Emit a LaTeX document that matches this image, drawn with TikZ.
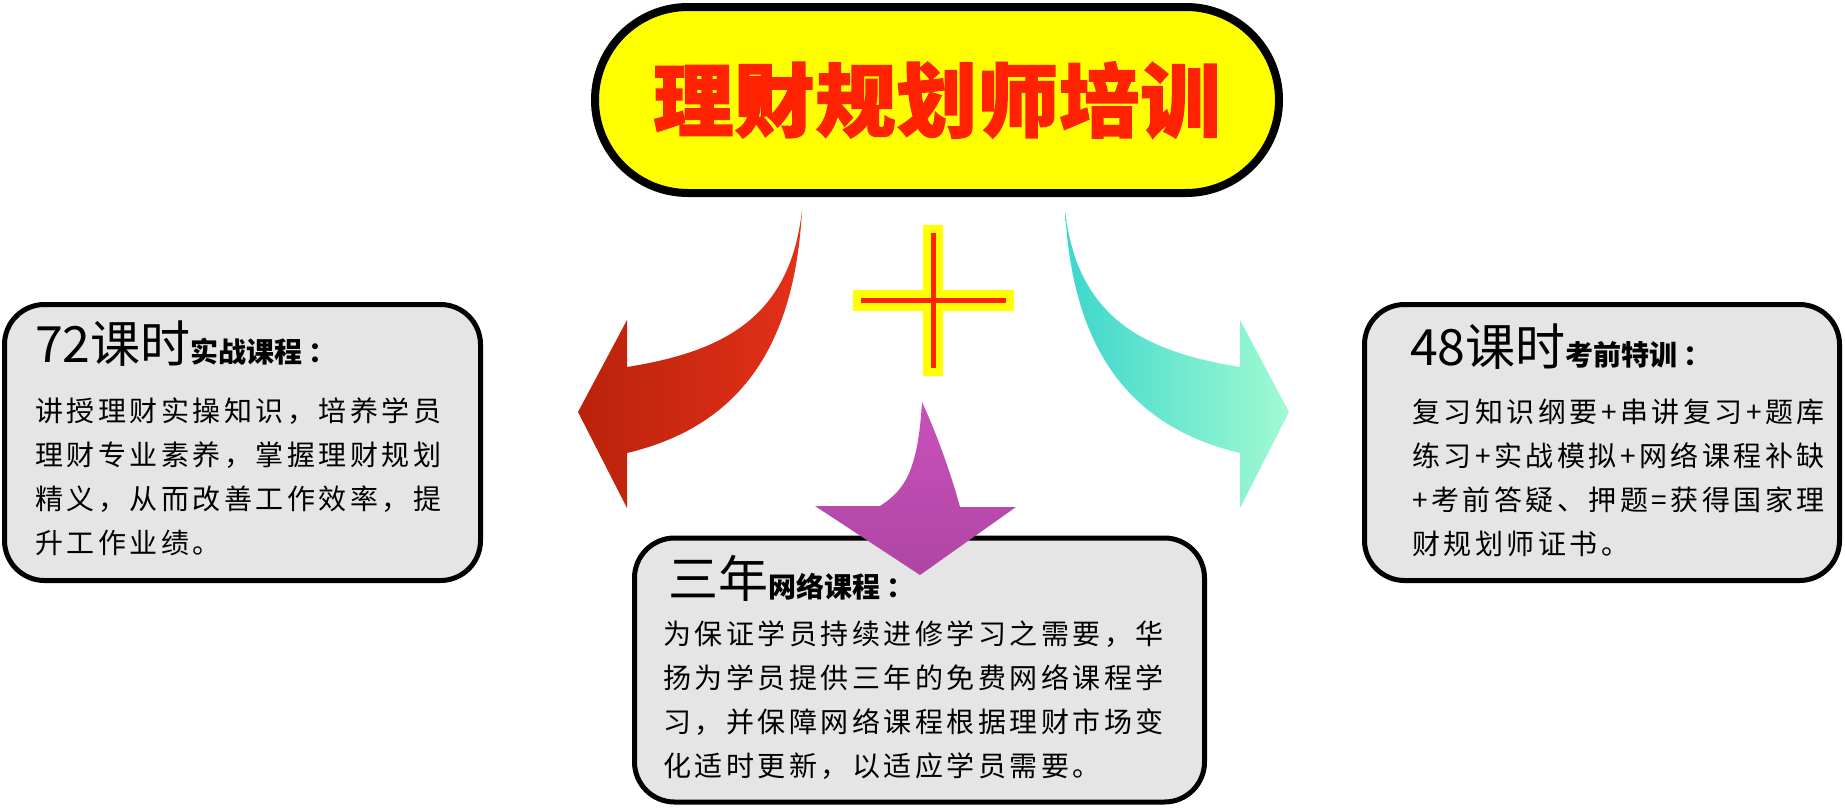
\documentclass[tikz,border=0pt]{standalone}
\usepackage{fontspec}
\usepackage{tikz}
\usetikzlibrary{positioning,calc}
\usepackage{xcolor}
\newfontfamily\cjkfont{Noto Sans CJK SC}
\newfontfamily\cjkspaced{Noto Sans CJK SC}[LetterSpace=12.5]
\newfontfamily\cjkheavy{Noto Sans CJK SC}[BoldFeatures={FakeBold=2}, LetterSpace=1.5]
\newcommand{\titlefont}{\cjkheavy\bfseries\fontsize{80}{90}\selectfont}
\newcommand{\bignum}{\cjkfont\fontsize{50}{60}\selectfont}
\newcommand{\smallhead}{\cjkfont\bfseries\fontsize{28}{34}\selectfont}
\newcommand{\bodyfont}{\cjkspaced\fontsize{28}{43.8}\selectfont}
\definecolor{dfyellow}{RGB}{255,255,0}
\definecolor{dfred}{RGB}{255,34,0}
\definecolor{dfgray}{RGB}{229,229,229}
\definecolor{dfdarkred}{RGB}{185,35,10}
\definecolor{dflightred}{RGB}{228,48,25}
\definecolor{dfteal}{RGB}{60,215,205}
\definecolor{dfmint}{RGB}{162,250,210}
\definecolor{dfmagenta}{RGB}{202,80,186}
\definecolor{dfpurple}{RGB}{174,70,165}
\tikzstyle{titlepill} = [rectangle, rounded corners=93pt, minimum width=684pt, minimum height=186pt, draw=black, line width=8pt, fill=dfyellow, text=dfred, font=\titlefont]
\tikzstyle{coursebox} = [rectangle, rounded corners=40pt, draw=black, line width=5pt, fill=dfgray]
\tikzstyle{boxhead} = [inner sep=0pt, anchor=base west]
\tikzstyle{boxbody} = [inner sep=0pt, anchor=north west, align=left, font=\bodyfont]

\begin{document}
\begin{tikzpicture}[x=1pt,y=-1pt]
\useasboundingbox (0,0) rectangle (1845,807);
\node[titlepill] (title) at (937,100) {理财规划师培训};

% plus sign
\fill[dfyellow] (923,225) rectangle (943,376);
\fill[dfyellow] (853,290) rectangle (1014,311);
\draw[dfred, line width=5pt] (933,233) -- (933,368);
\draw[dfred, line width=5pt] (861,300.5) -- (1006,300.5);

% course boxes
\node[coursebox, minimum width=476pt, minimum height=276pt] (lbox) at (242.5,442.5) {};
\node[coursebox, minimum width=475pt, minimum height=276pt] (rbox) at (1602,442.5) {};
\node[coursebox, minimum width=570pt, minimum height=264pt] (mbox) at (919.5,670) {};

\node[boxhead] (lhead) at (35,362) {\bignum 72课时\smallhead 实战课程\hspace{6pt}：};
\node[boxbody] (lbody) at (35,398) {讲授理财实操知识，培养学员\\理财专业素养，掌握理财规划\\精义，从而改善工作效率，提\\升工作业绩。};

\node[boxhead] (rhead) at (1410,365) {\bignum 48课时\smallhead 考前特训\hspace{6pt}：};
\node[boxbody] (rbody) at (1412,399) {复习知识纲要+串讲复习+题库\\练习+实战模拟+网络课程补缺\\+考前答疑、押题=获得国家理\\财规划师证书。};

\node[boxhead] (mhead) at (668,597) {\bignum 三年\smallhead 网络课程\hspace{6pt}：};
\node[boxbody] (mbody) at (663,621) {为保证学员持续进修学习之需要，华\\扬为学员提供三年的免费网络课程学\\习，并保障网络课程根据理财市场变\\化适时更新，以适应学员需要。};

% curved arrows
\shade[left color=dfdarkred, right color=dflightred] (802,210) .. controls (795,340) and (745,425) .. (627,453) -- (627,508) -- (578,412) -- (627,320) -- (627,367) .. controls (720,352) and (790,320) .. (802,210) -- cycle;
\shade[left color=dfteal, right color=dfmint] (1065,210) .. controls (1072,340) and (1122,425) .. (1240,453) -- (1240,508) -- (1289,412) -- (1240,320) -- (1240,367) .. controls (1147,352) and (1077,320) .. (1065,210) -- cycle;
\shade[top color=dfmagenta, bottom color=dfpurple] (922,402) .. controls (918,470) and (905,490) .. (880,506) -- (815,506) -- (920,575) -- (1016,507) -- (960,507) .. controls (950,470) and (935,430) .. (922,402) -- cycle;
\end{tikzpicture}
\end{document}
